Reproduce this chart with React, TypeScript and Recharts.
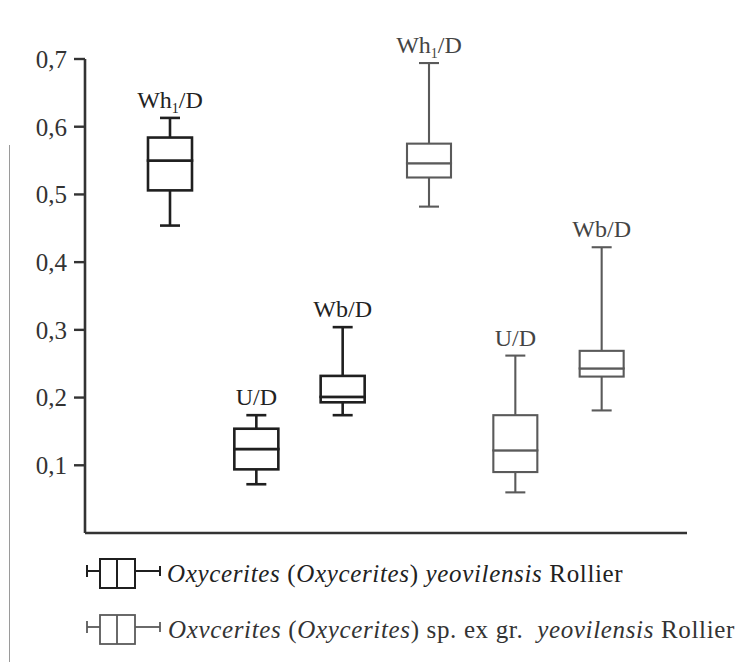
import React from 'react';
import { ComposedChart, Bar, XAxis, YAxis } from 'recharts';

// Ratio names, one per box, left to right
const ratioLabels = ['Wh1/D', 'U/D', 'Wb/D', 'Wh1/D', 'U/D', 'Wb/D'];
// 0 = O. (O.) yeovilensis, 1 = O. (O.) sp. ex gr. yeovilensis
const speciesIndex = [0, 0, 0, 1, 1, 1];

// Five-number summaries
const whiskerMin = [0.454, 0.072, 0.174, 0.482, 0.06, 0.181];
const quartile1 = [0.506, 0.094, 0.193, 0.525, 0.09, 0.231];
const medians = [0.55, 0.124, 0.201, 0.546, 0.122, 0.243];
const quartile3 = [0.584, 0.154, 0.232, 0.575, 0.174, 0.269];
const whiskerMax = [0.613, 0.174, 0.304, 0.694, 0.262, 0.422];

const yTicks = [0.1, 0.2, 0.3, 0.4, 0.5, 0.6, 0.7];

const SERIF = 'Liberation Serif, Times New Roman, serif';
const speciesStroke = ['#1f1f1f', '#5a5a5a'];
const speciesWidth = [2.6, 2.1];

const data = ratioLabels.map((label, i) => ({
  key: `b${i}`,
  label,
  species: speciesIndex[i],
  base: whiskerMin[i],
  lowW: quartile1[i] - whiskerMin[i],
  lowBox: medians[i] - quartile1[i],
  upBox: quartile3[i] - medians[i],
  upW: whiskerMax[i] - quartile3[i],
}));

const CAP = 20;

const RatioLabel = ({ x, y, text, color }: { x: number; y: number; text: string; color: string }) => {
  const m = text.match(/^(Wh)1(\/D)$/);
  const style = { fontFamily: SERIF };
  if (m) {
    return (
      <text x={x} y={y} textAnchor="middle" style={style} fontSize={24} fill={color}>
        {m[1]}
        <tspan fontSize={14} dy={5}>1</tspan>
        <tspan dy={-5}>{m[2]}</tspan>
      </text>
    );
  }
  return (
    <text x={x} y={y} textAnchor="middle" style={style} fontSize={24} fill={color}>
      {text}
    </text>
  );
};

const Empty = () => <g />;

const LowerWhisker = (p: any) => {
  const s = p.payload.species;
  const cx = p.x + p.width / 2;
  const bottom = p.y + p.height;
  return (
    <g stroke={speciesStroke[s]} strokeWidth={speciesWidth[s]}>
      <line x1={cx} x2={cx} y1={p.y} y2={bottom} />
      <line x1={cx - CAP / 2} x2={cx + CAP / 2} y1={bottom} y2={bottom} />
    </g>
  );
};

const BoxPart = (p: any) => {
  const s = p.payload.species;
  return (
    <rect
      x={p.x}
      y={p.y}
      width={p.width}
      height={p.height}
      fill="#ffffff"
      stroke={speciesStroke[s]}
      strokeWidth={speciesWidth[s]}
    />
  );
};

const UpperWhisker = (p: any) => {
  const s = p.payload.species;
  const cx = p.x + p.width / 2;
  return (
    <g>
      <g stroke={speciesStroke[s]} strokeWidth={speciesWidth[s]}>
        <line x1={cx} x2={cx} y1={p.y} y2={p.y + p.height} />
        <line x1={cx - CAP / 2} x2={cx + CAP / 2} y1={p.y} y2={p.y} />
      </g>
      <RatioLabel x={cx} y={p.y - 10} text={p.payload.label} color={s === 0 ? '#222' : '#444'} />
    </g>
  );
};

const LegendIcon = ({ x, y, color, w }: { x: number; y: number; color: string; w: number }) => (
  <g stroke={color} strokeWidth={w} fill="none">
    <line x1={x} x2={x} y1={y - 6} y2={y + 6} />
    <line x1={x} x2={x + 13} y1={y} y2={y} />
    <rect x={x + 13} y={y - 12} width={35} height={29} />
    <line x1={x + 30} x2={x + 30} y1={y - 12} y2={y + 17} />
    <line x1={x + 48} x2={x + 73} y1={y} y2={y} />
    <line x1={x + 73} x2={x + 73} y1={y - 5} y2={y + 5} />
  </g>
);

const textStyle = { fontFamily: SERIF, fontSize: 25 };

export default function App() {
  return (
    <div style={{ position: 'absolute', left: 0, top: 0, width: 736, height: 662, background: '#fff', fontFamily: SERIF }}>
      <div style={{ position: 'absolute', left: 9, top: 145, width: 1, height: 517, background: '#9a9a9a' }} />
      <ComposedChart
        width={736}
        height={662}
        data={data}
        margin={{ top: 59, right: 49, bottom: 128, left: 0 }}
        barSize={44}
      >
        <XAxis
          dataKey="key"
          tick={false}
          tickLine={false}
          height={1}
          padding={{ left: 42, right: 42 }}
          axisLine={{ stroke: '#333', strokeWidth: 2.6 }}
        />
        <YAxis
          type="number"
          domain={[0, 0.7]}
          ticks={yTicks}
          width={85}
          tickSize={11}
          tickMargin={7}
          tickFormatter={(v: number) => v.toFixed(1).replace('.', ',')}
          tick={{ fill: '#333', fontSize: 25, style: { fontFamily: SERIF } }}
          tickLine={{ stroke: '#333', strokeWidth: 2.4 }}
          axisLine={{ stroke: '#333', strokeWidth: 2.6 }}
        />
        <Bar dataKey="base" stackId="box" shape={<Empty />} isAnimationActive={false} />
        <Bar dataKey="lowW" stackId="box" shape={(p: any) => <LowerWhisker {...p} />} isAnimationActive={false} />
        <Bar dataKey="lowBox" stackId="box" shape={(p: any) => <BoxPart {...p} />} isAnimationActive={false} />
        <Bar dataKey="upBox" stackId="box" shape={(p: any) => <BoxPart {...p} />} isAnimationActive={false} />
        <Bar dataKey="upW" stackId="box" shape={(p: any) => <UpperWhisker {...p} />} isAnimationActive={false} />
      </ComposedChart>
      <svg width={736} height={662} style={{ position: 'absolute', left: 0, top: 0, pointerEvents: 'none' }}>
        <LegendIcon x={87} y={571} color={speciesStroke[0]} w={2} />
        <text x={167} y={582} style={textStyle} letterSpacing={0.65} fill="#222">
          <tspan fontStyle="italic">Oxycerites</tspan>
          <tspan> (</tspan>
          <tspan fontStyle="italic">Oxycerites</tspan>
          <tspan>) </tspan>
          <tspan fontStyle="italic">yeovilensis</tspan>
          <tspan> Rollier</tspan>
        </text>
        <LegendIcon x={87} y={627} color={speciesStroke[1]} w={1.8} />
        <text x={168} y={638} style={textStyle} letterSpacing={0.65} fill="#333">
          <tspan fontStyle="italic">Oxvcerites</tspan>
          <tspan> (</tspan>
          <tspan fontStyle="italic">Oxycerites</tspan>
          <tspan>) sp. ex gr. </tspan>
          <tspan fontStyle="italic" dx={7}>yeovilensis</tspan>
          <tspan> Rollier</tspan>
        </text>
      </svg>
    </div>
  );
}
